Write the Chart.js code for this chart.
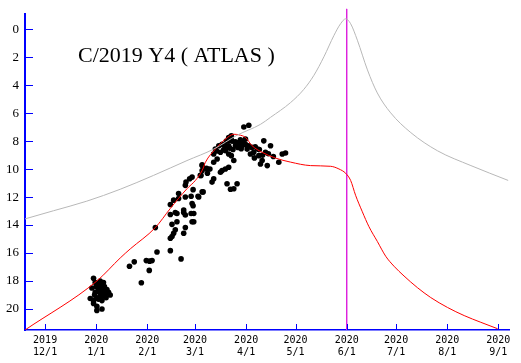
<!DOCTYPE html>
<html>
<head>
<meta charset="utf-8">
<script src="https://cdn.jsdelivr.net/npm/chart.js@4/dist/chart.umd.min.js"></script>
<style>
  html, body { margin: 0; padding: 0; background: #fff; }
  #wrap { width: 521px; height: 363px; }
</style>
</head>
<body>
<div id="wrap"><canvas id="chart" width="521" height="363"></canvas></div>
<script>
// days counted from 2019-12-01
const titleText = 'C/2019 Y4 ( ATLAS )';
const xTicks = [0, 31, 62, 91, 122, 152, 183, 213, 244, 275];
const xLabels = [['2019', '12/1'], ['2020', '1/1'], ['2020', '2/1'], ['2020', '3/1'], ['2020', '4/1'],
                 ['2020', '5/1'], ['2020', '6/1'], ['2020', '7/1'], ['2020', '8/1'], ['2020', '9/1']];
const yTicks = [0, 2, 4, 6, 8, 10, 12, 14, 16, 18, 20];
const perihelionDay = 183;

// gray curve (brightness without fading)
const grayDays = [-12.2, 5, 25.3, 45.6, 65.8, 86.1, 102.3, 116.5, 130.7, 136.8, 148.9, 157, 163.1, 169.2,
                  175.3, 179.3, 182.4, 185.4, 189.5, 195.6, 201.6, 209.7, 221.9, 238.1, 258.4, 281];
const grayMags = [13.56, 12.98, 12.29, 11.44, 10.45, 9.39, 8.57, 7.58, 6.8, 6.3, 5.25, 4.3, 3.3, 1.97,
                  0.44, -0.39, -0.74, -0.39, 0.79, 2.91, 4.56, 5.98, 7.39, 8.69, 9.75, 10.81];

// red curve (fitted light curve)
const redDays = [-12.2, 31.4, 45.6, 51.7, 66.9, 76, 86.1, 91.2, 95.3, 97.3, 103.3, 109.4, 114.5, 117.5,
                 121.6, 125.6, 131.7, 139.8, 148.9, 161.1, 173.3, 178.3, 182.4, 185.4, 188.4, 192.5,
                 196.5, 201.6, 206.7, 211.7, 217.8, 225.9, 234, 244.2, 254.3, 264.4, 274.6];
const redMags = [21.5, 18.0, 16.35, 15.7, 14.18, 12.81, 11.4, 10.81, 10.1, 9.51, 8.57, 7.86, 7.51, 7.55,
                 7.74, 8.33, 8.8, 9.21, 9.5, 9.75, 9.8, 9.99, 10.3, 10.81, 11.87, 13.05,
                 14.11, 15.17, 16.23, 16.94, 17.64, 18.47, 19.18, 19.89, 20.47, 20.95, 21.41];

// observations
const obsDays = [29.4, 30.4, 28.4, 33.4, 35.4, 32.4, 33.4, 32.4, 30.4, 35.4, 37.5, 38.5, 39.5, 36.5, 33.4,
                 31.4, 27.4, 29.4, 32.4, 34.5, 29.4, 31.4, 34.5, 31.4, 35.4, 34.0, 31.0, 36.0, 30.0, 37.0,
                 33.0, 34.5,
                 51.2, 54.1, 61.4, 63.4, 64.9, 63.2, 58.4, 67.9, 76, 82.5, 66.9, 76, 77, 78, 84.1, 85.1,
                 77, 79, 80, 89.2, 90.2, 76, 79, 84.1, 85.1, 88.6, 84.1, 76, 78, 81, 81, 85.1, 89.2,
                 89.8, 88.6, 92.8, 95.9, 89.8, 85.1, 85.5, 87.7, 89.2, 94.6, 95.3, 97.9, 95.3, 80, 90.2,
                 120.6, 123.6, 111.4, 113, 107.4, 109.4, 105.4, 103.3, 111.4, 115.5, 119.6, 121.6, 123.6,
                 117.5, 109.4, 111.4, 113, 114.5, 106.4, 104.4, 102.3, 102.3, 95.3, 98.3, 94.2, 107.4,
                 109.4, 111.4, 102.3, 101.3, 110.4, 112.5, 114.5, 116.5, 95.3, 93.2, 132.7, 128.9,
                 126.6, 129.7, 131.7, 130.7, 134.8, 136.8, 133.7, 141.8, 143.9, 145.9, 124.6, 122.6,
                 111.4, 115.5, 121.6, 106.4, 108.4, 100, 98.5, 118, 113, 104, 127.5, 135.5, 138.5,
                 113.5, 116, 118.5, 120, 112, 117, 114, 119, 110, 125.5, 130, 132, 127];
const obsMags = [17.8, 18.1, 18.5, 18.0, 18.1, 18.2, 18.5, 18.7, 18.8, 18.7, 18.6, 18.8, 19.0, 19.0, 19.1,
                 19.2, 19.25, 19.4, 19.3, 19.4, 19.6, 19.8, 20.0, 20.1, 18.9, 18.3, 18.4, 18.4, 19.0, 19.2,
                 18.8, 19.1,
                 16.94, 16.63, 16.54, 16.58, 16.54, 17.24, 18.12, 15.93, 15.83, 16.42, 14.18, 14.94, 14.82,
                 14.58, 14.58, 14.18, 13.95, 14.34, 13.76, 13.76, 13.76, 13.24, 13.1, 13.1, 13.28, 13.17,
                 12.93, 12.53, 12.22, 12.1, 11.75, 11.99, 12.46, 12.62, 11.94, 11.94, 11.63, 11.47, 11.16,
                 10.93, 10.69, 10.57, 10.45, 10.1, 9.94, 9.75, 13.17, 13.17,
                 6.99, 6.87, 7.74, 7.62, 8.22, 8.33, 8.33, 8.57, 8.33, 8.33, 8.33, 8.22, 8.33,
                 8.1, 8.68, 8.92, 9.04, 9.39, 8.8, 9.28, 9.51, 8.92, 9.7, 9.99, 10.45, 10.1,
                 9.99, 9.87, 10.69, 10.93, 11.05, 11.44, 11.4, 11.05, 11.63, 11.99, 7.98, 8.57,
                 8.8, 9.04, 9.39, 9.63, 9.75, 8.33, 8.8, 9.51, 8.92, 8.85, 8.92, 8.57,
                 7.98, 8.05, 7.86, 10.22, 8.6, 10.0, 10.3, 8.2, 7.9, 8.7, 8.4, 8.9, 9.1,
                 8.0, 8.2, 7.9, 8.1, 8.5, 8.45, 8.6, 8.55, 8.0, 8.45, 8.6, 9.0, 9.2];

function toPoints(xs, ys) {
    return xs.map((x, i) => ({ x: x, y: ys[i] }));
}

// tick marks point into the plot, title sits inside it
const innerTicks = {
    id: 'innerTicks',
    afterDraw(chart) {
        const ctx = chart.ctx;
        const xs = chart.scales.x, ys = chart.scales.y;
        const area = chart.chartArea;
        ctx.save();
        ctx.strokeStyle = '#0000ff';
        ctx.lineWidth = 1;
        ctx.beginPath();
        yTicks.forEach(v => {
            const py = Math.round(ys.getPixelForValue(v)) + 0.5;
            ctx.moveTo(area.left, py);
            ctx.lineTo(area.left + 8, py);
        });
        xTicks.forEach(v => {
            const px = Math.round(xs.getPixelForValue(v)) + 0.5;
            ctx.moveTo(px, area.bottom);
            ctx.lineTo(px, area.bottom - 6);
        });
        ctx.stroke();
        ctx.fillStyle = '#000';
        ctx.font = '22px "Liberation Serif", serif';
        ctx.textBaseline = 'alphabetic';
        ctx.fillText(titleText, 78, 62);
        ctx.restore();
    }
};

const ctx = document.getElementById('chart').getContext('2d');
const chart = new Chart(ctx, {
    type: 'scatter',
    data: {
        datasets: [{
            data: toPoints(grayDays, grayMags),
            showLine: true,
            borderColor: '#b8b8b8',
            borderWidth: 1,
            pointRadius: 0,
            cubicInterpolationMode: 'monotone'
        }, {
            data: toPoints(redDays, redMags),
            showLine: true,
            borderColor: '#ff0000',
            borderWidth: 1,
            pointRadius: 0,
            cubicInterpolationMode: 'monotone'
        }, {
            data: [{ x: perihelionDay, y: -1.45 }, { x: perihelionDay, y: 21.5 }],
            showLine: true,
            borderColor: '#dd22dd',
            borderWidth: 1,
            pointRadius: 0,
            clip: false
        }, {
            data: toPoints(obsDays, obsMags),
            backgroundColor: '#000',
            borderColor: '#000',
            borderWidth: 0,
            pointRadius: 2.8,
            pointStyle: 'circle'
        }]
    },
    options: {
        responsive: false,
        animation: false,
        layout: { padding: { top: 10, right: 12, left: 0, bottom: 0 } },
        plugins: {
            legend: { display: false },
            tooltip: { enabled: false }
        },
        scales: {
            x: {
                type: 'linear',
                min: -12.2,
                max: 281.5,
                afterFit: s => { s.height = 33; },
                afterBuildTicks: s => { s.ticks = xTicks.map(v => ({ value: v })); },
                grid: { display: false, drawTicks: false },
                border: { color: '#0000ff', width: 1.5 },
                ticks: {
                    color: '#000',
                    padding: 5,
                    autoSkip: false,
                    maxRotation: 0,
                    font: { family: '"DejaVu Sans Mono", monospace', size: 10, lineHeight: 1.15 },
                    callback: (v) => xLabels[xTicks.indexOf(v)]
                }
            },
            y: {
                type: 'linear',
                reverse: true,
                min: -1.1,
                max: 21.5,
                afterFit: s => { s.width = 25; },
                afterBuildTicks: s => { s.ticks = yTicks.map(v => ({ value: v })); },
                grid: { display: false, drawTicks: false },
                border: { color: '#0000ff', width: 2 },
                ticks: {
                    color: '#000',
                    padding: 6,
                    font: { family: '"Liberation Serif", serif', size: 13 }
                }
            }
        }
    },
    plugins: [innerTicks]
});
</script>
</body>
</html>
